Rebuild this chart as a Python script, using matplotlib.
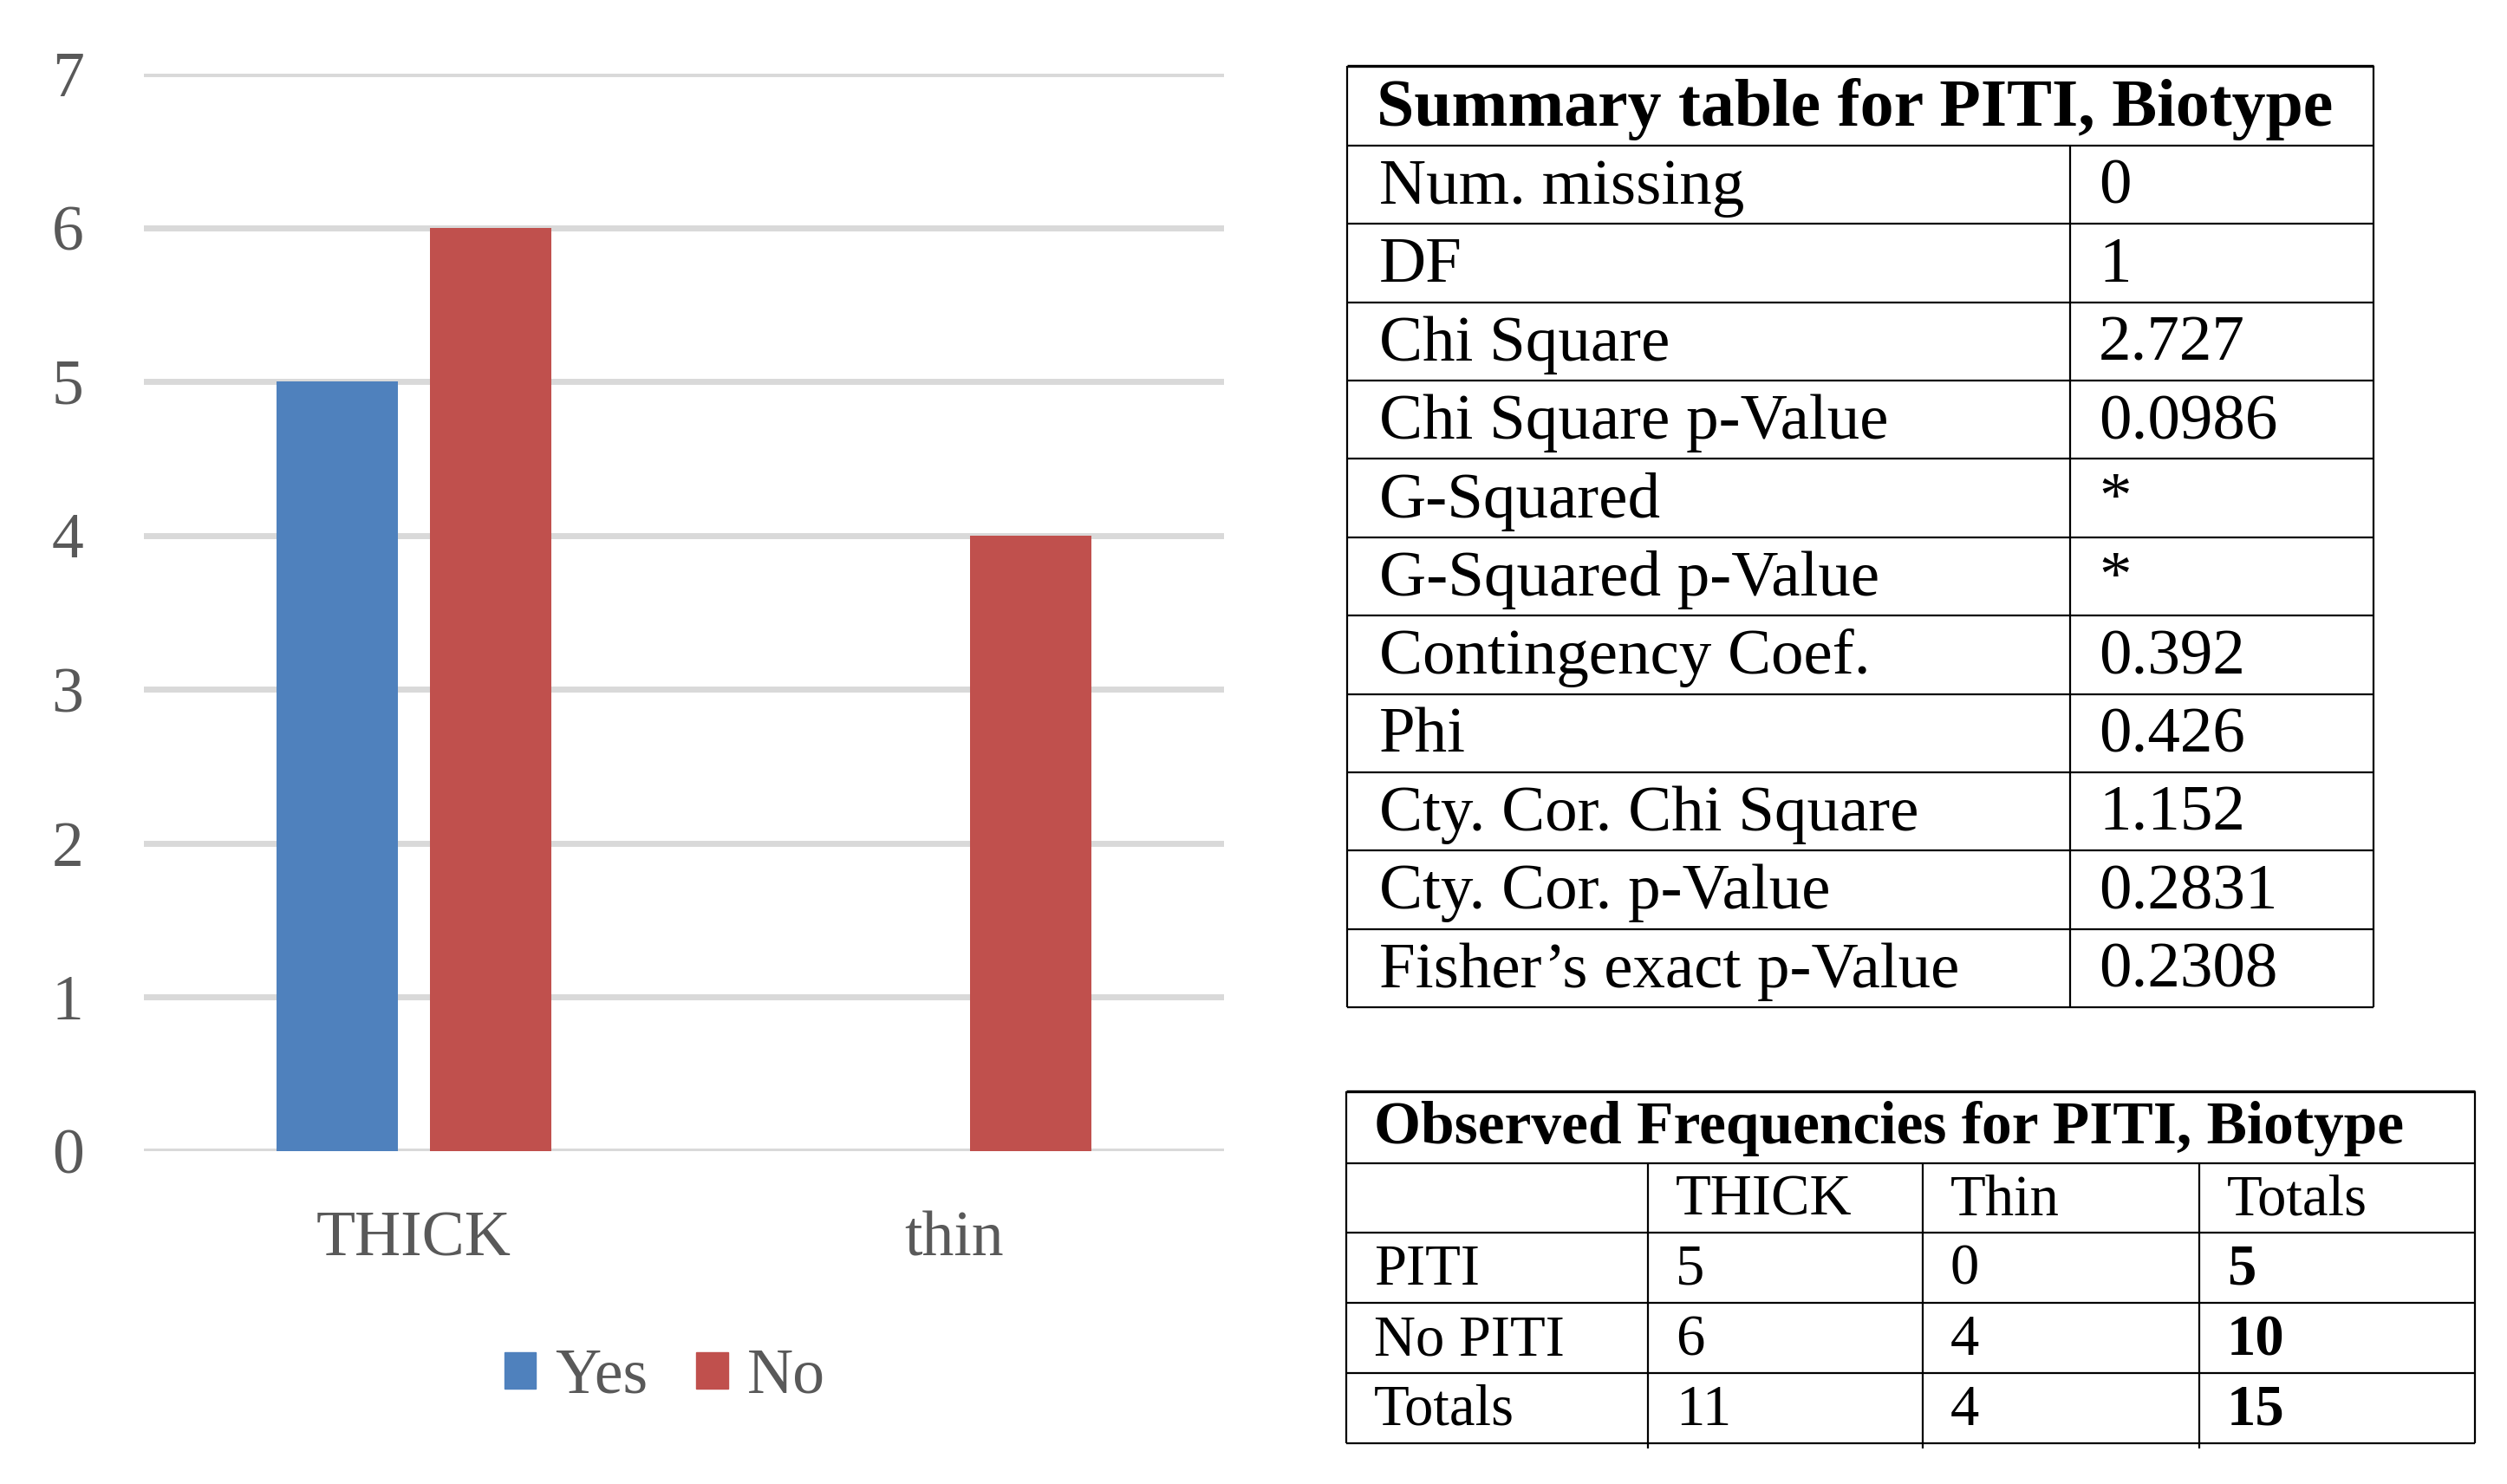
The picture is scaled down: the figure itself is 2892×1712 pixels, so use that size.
import numpy as np
import matplotlib
matplotlib.use('Agg')
import matplotlib.pyplot as plt
from matplotlib.patches import Patch

plt.rcParams['font.family'] = ['Liberation Serif', 'DejaVu Serif']

# ── Données ─────────────────────────────────────────────────────────────
categories = ['THICK', 'thin']
yes_vals   = [5, 0]
no_vals    = [6, 4]

summary_title  = 'Summary table for PITI, Biotype'
summary_labels = ['Num. missing', 'DF', 'Chi Square', 'Chi Square p-Value',
                  'G-Squared', 'G-Squared p-Value', 'Contingency Coef.', 'Phi',
                  'Cty. Cor. Chi Square', 'Cty. Cor. p-Value',
                  'Fisher\u2019s exact p-Value']
summary_values = ['0', '1', '2.727', '0.0986', '*', '*', '0.392', '0.426',
                  '1.152', '0.2831', '0.2308']

obs_title   = 'Observed Frequencies for PITI, Biotype'
obs_header  = ['', 'THICK', 'Thin', 'Totals']
obs_rows    = ['PITI', 'No PITI', 'Totals']
obs_thick   = [5, 6, 11]
obs_thin    = [0, 4, 4]
obs_totals  = [5, 10, 15]

W, H = 2892, 1712
DPI = 100
BLUE, RED, GRID, TXT = '#4F81BD', '#C0504D', '#D9D9D9', '#595959'

fig = plt.figure(figsize=(W / DPI, H / DPI), dpi=DPI)

# ── Graphique à barres ──────────────────────────────────────────────────
ax = fig.add_axes([166 / W, 1 - 1328 / H, (1412 - 166) / W, (1328 - 85) / H])
x = np.arange(len(categories))
w = 0.225
off = 0.142
ax.bar(x - off, yes_vals, w, color=BLUE, label='Yes', zorder=3)
ax.bar(x + off, no_vals, w, color=RED, label='No', zorder=3)
ax.set_xlim(-0.5, 1.5)
ax.set_ylim(0, 7)
ax.set_yticks(range(8))
ax.yaxis.grid(True, color=GRID, linewidth=5, zorder=0)
ax.set_axisbelow(True)
for s in ax.spines.values():
    s.set_visible(False)
ax.set_xticks(x)
ax.set_xticklabels(categories)
ax.tick_params(axis='both', length=0, labelsize=53, labelcolor=TXT)
ax.tick_params(axis='y', pad=50)
ax.tick_params(axis='x', pad=50)

handles = [Patch(color=BLUE, label='Yes'), Patch(color=RED, label='No')]
ax.legend(handles=handles, loc='center', bbox_to_anchor=(0.482, -0.21),
          ncol=2, frameon=False, fontsize=53, labelcolor=TXT,
          handlelength=0.5, handleheight=0.5, handletextpad=0.3,
          columnspacing=0.75)

# ── Tables (coordonnées pixels) ─────────────────────────────────────────
tx = fig.add_axes([0, 0, 1, 1])
tx.set_xlim(0, W)
tx.set_ylim(H, 0)
tx.axis('off')

LW = 1.6

# Table 1 : résumé
L1, R1, C1 = 1554, 2738, 2388
top1 = 76
head1 = 168
rh1 = (1162 - head1) / len(summary_labels)
ys1 = [head1 + i * rh1 for i in range(len(summary_labels) + 1)]
tx.hlines([top1], L1, R1, color='black', lw=2.4)
tx.hlines(ys1, L1, R1, color='black', lw=LW)
tx.vlines([L1, R1], top1, ys1[-1], color='black', lw=LW)
tx.vlines([C1], head1, ys1[-1], color='black', lw=LW)
tx.text(L1 + 34, (top1 + head1) / 2 + 4, summary_title, fontsize=56,
        fontweight='bold', va='center', ha='left')
for i, (lab, val) in enumerate(zip(summary_labels, summary_values)):
    yc = ys1[i] + rh1 / 2 + 4
    tx.text(L1 + 37, yc, lab, fontsize=54, va='center', ha='left')
    tx.text(C1 + 33, yc, val, fontsize=54, va='center', ha='left')

# Table 2 : fréquences observées
L2, R2 = 1553, 2855
cols2 = [1553, 1901, 2218, 2537, 2855]
top2, head2 = 1259, 1342
ys2 = [head2, 1422, 1503, 1584, 1665]
tx.hlines([top2], L2, R2, color='black', lw=2.4)
tx.hlines(ys2, L2, R2, color='black', lw=LW)
tx.vlines([L2, R2], top2, ys2[-1], color='black', lw=LW)
tx.vlines(cols2[1:-1], head2, ys2[-1] + 6, color='black', lw=LW)
tx.text(L2 + 32, (top2 + head2) / 2 + 2, obs_title, fontsize=50,
        fontweight='bold', va='center', ha='left')

rows_txt = [obs_header] + [[r, str(a), str(b), str(c)] for r, a, b, c in
                           zip(obs_rows, obs_thick, obs_thin, obs_totals)]
for i, row in enumerate(rows_txt):
    yc = (ys2[i] + ys2[i + 1]) / 2 + 3
    for j, cell in enumerate(row):
        bold = (j == 3 and i > 0)
        tx.text(cols2[j] + 32, yc, cell, fontsize=48, va='center', ha='left',
                fontweight='bold' if bold else 'normal')

fig.savefig('out.png', dpi=DPI)
